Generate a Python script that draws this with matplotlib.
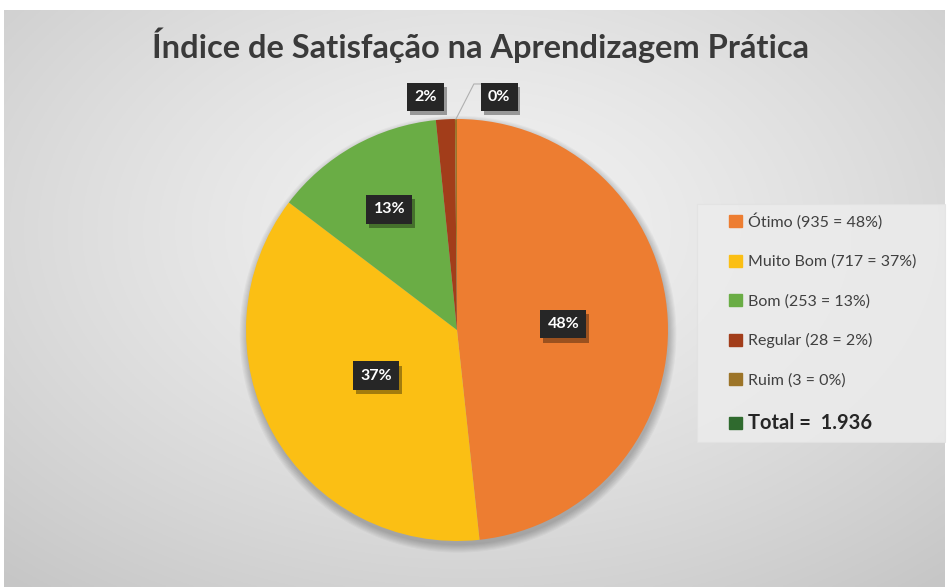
import numpy as np
import matplotlib
matplotlib.use("Agg")
import matplotlib.pyplot as plt
from matplotlib.patches import Patch, Circle, Rectangle
import matplotlib.patheffects as pe

plt.rcParams['font.family'] = ['Lato', 'DejaVu Sans']

# data
categorias = ["Ótimo", "Muito Bom", "Bom", "Regular", "Ruim"]
valores = [935, 717, 253, 28, 3]
rotulos_pct = ["48%", "37%", "13%", "2%", "0%"]
cores = ["#ED7D31", "#FBBF14", "#6AAD45", "#A23D1A", "#9C7428"]
total_txt = "Total =  1.936"
cor_total = "#2F6A2E"
titulo = "Índice de Satisfação na Aprendizagem Prática"

W, H = 948, 587
fig = plt.figure(figsize=(W / 100, H / 100), dpi=100, facecolor="white")

# background panel with radial gradient
bg = fig.add_axes([4 / W, 0, 941 / W, 577 / H])
bg.set_axis_off()
yy, xx = np.mgrid[0:1:300j, 0:1:500j]
r = np.sqrt(((xx - 0.5) / 0.75) ** 2 + ((yy - 0.38) / 0.8) ** 2)
g = 0.95 - 0.17 * np.clip(r, 0, 1) ** 1.3
bg.imshow(np.dstack([g, g, g]), extent=[0, 1, 0, 1], origin="upper", aspect="auto")
bg.set_xlim(0, 1)
bg.set_ylim(0, 1)

fig.text(480 / W, 1 - 45 / H, titulo, ha="center", va="center",
         fontsize=23.5, fontweight="bold", color="#3a3a3a")

# pie axes: center at (457, 330) px, radius 211 px
R = 211
half = 1.2 * R
ax = fig.add_axes([(457 - half) / W, (H - 330 - half) / H, 2 * half / W, 2 * half / H])

# soft shadow
for k in range(8):
    ax.add_patch(Circle((0.005, -0.02), 1.0 + 0.005 * k, color="black",
                        alpha=0.03, lw=0, zorder=0))

wedges, _ = ax.pie(valores, colors=cores, startangle=90, counterclock=False,
                   radius=1.0, wedgeprops=dict(linewidth=0))
ax.set_aspect("auto")
ax.set_xlim(-1.2, 1.2)
ax.set_ylim(-1.2, 1.2)
ax.set_axis_off()

box = dict(boxstyle="square,pad=0.45", fc="#262626", ec="none")
sombra = [pe.SimplePatchShadow(offset=(2, -3), shadow_rgbFace="black", alpha=0.35),
          pe.Normal()]


def rotulo(x, y, s):
    t = ax.text(x, y, s, ha="center", va="center", fontsize=11.5,
                fontweight="bold", color="white", bbox=box, clip_on=False)
    t.get_bbox_patch().set_path_effects(sombra)


dist = [0.505, 0.44, 0.655]
for w, lab, d in zip(wedges[:3], rotulos_pct[:3], dist):
    ang = np.deg2rad((w.theta1 + w.theta2) / 2)
    rotulo(d * np.cos(ang), d * np.sin(ang), lab)

# small slices: labels outside
out_pos = [(-0.149, 1.104), (0.20, 1.104)]
for lab, (x, y) in zip(rotulos_pct[3:], out_pos):
    rotulo(x, y, lab)
w = wedges[4]
ang = np.deg2rad((w.theta1 + w.theta2) / 2)
ax.plot([np.cos(ang), 0.08, 0.115], [np.sin(ang), 1.166, 1.166],
        color="#b0b0b0", lw=0.8, clip_on=False)

# legend box
fig.patches.append(Rectangle((697 / W, 1 - 442 / H), 248 / W, 238 / H,
                             transform=fig.transFigure, fc="#ececec", ec="#e2e2e2",
                             alpha=0.85, lw=0.8, zorder=1))
handles = [Patch(color=c) for c in cores] + [Patch(color=cor_total)]
labels = ["%s (%d = %s)" % (c, v, p) for c, v, p in zip(categorias, valores, rotulos_pct)]
labels.append(total_txt)
leg = fig.legend(handles, labels, loc="upper left",
                 bbox_to_anchor=(729 / W, 1 - 213 / H),
                 borderaxespad=0, borderpad=0, fontsize=11.5, frameon=False,
                 handlelength=0.8, handleheight=0.8,
                 handletextpad=0.4, labelspacing=1.55)
leg.set_zorder(3)
for t in leg.get_texts()[:-1]:
    t.set_color("#404040")
leg.get_texts()[-1].set_fontweight("bold")
leg.get_texts()[-1].set_fontsize(14.5)
leg.get_texts()[-1].set_color("#262626")

fig.savefig("out.png", dpi=100, facecolor="white")
